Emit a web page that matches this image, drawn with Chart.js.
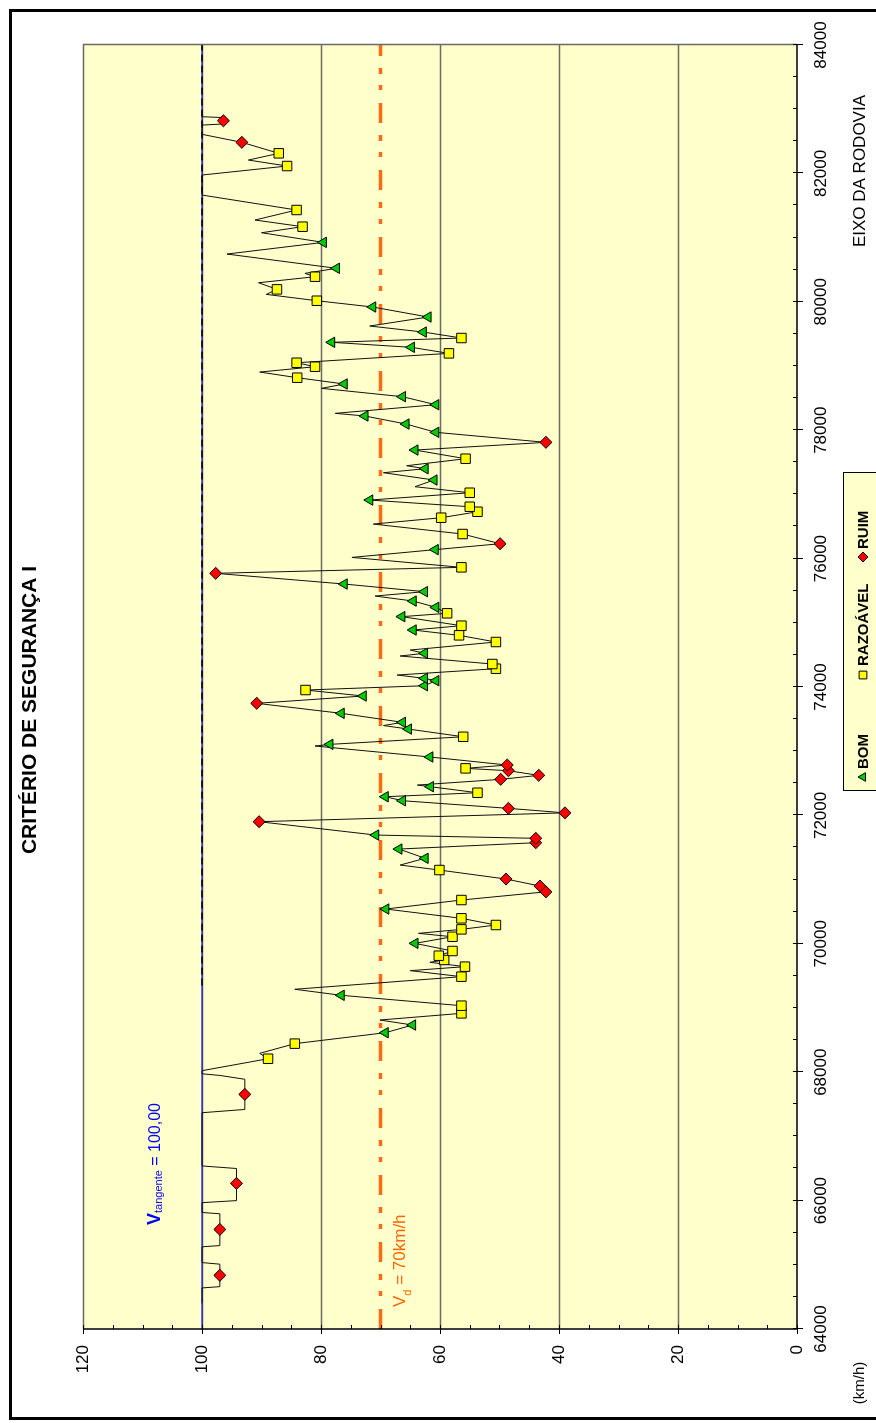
<!DOCTYPE html>
<html><head><meta charset="utf-8">
<script src="https://cdn.jsdelivr.net/npm/chart.js@4/dist/chart.umd.min.js"></script>
<style>
html,body{margin:0;padding:0;background:#fff;overflow:hidden;width:876px;height:1423px;}
#wrap{position:absolute;left:0;top:0;width:1423px;height:876px;transform-origin:0 0;transform:translate(0px,1423px) rotate(-90deg);}
canvas{display:block;}
</style></head><body>
<div id="wrap"><canvas id="c" width="1423" height="876"></canvas></div>
<script>
// ---- DATA ----
const chartTitle = 'CRITÉRIO DE SEGURANÇA I';
const xAxisTitle = 'EIXO DA RODOVIA';
const yAxisTitle = '(km/h)';
const seriesNames = ['BOM', 'RAZOÁVEL', 'RUIM'];

const profileStations = [64400,64640,64660,64836,65010,65035,65280,65300,65551,65795,65815,65968,66000,66269,66500,66540,67369,67420,67655,67890,67950,67975,68024,68210,68294,68445,68615,68735,68813,68917,69036,69198,69292,69488,69582,69644,69712,69748,69815,69888,70007,70110,70163,70225,70293,70397,70542,70682,70810,70900,71009,71149,71227,71332,71476,71575,71643,71694,71902,72040,72110,72229,72291,72353,72447,72473,72562,72624,72696,72733,72785,72910,73081,73107,73225,73345,73400,73450,73590,73746,73860,73953,74020,74098,74135,74187,74285,74358,74483,74525,74576,74701,74805,74888,74955,75096,75148,75241,75339,75417,75485,75604,75771,75864,76019,76140,76232,76383,76538,76637,76730,76808,76912,77026,77120,77224,77338,77400,77447,77556,77691,77811,77967,78096,78221,78263,78397,78522,78652,78720,78818,78906,78989,79051,79197,79291,79369,79436,79529,79623,79763,79919,80017,80116,80194,80297,80391,80443,80522,80744,80926,81076,81170,81274,81430,81663,81975,82115,82208,82313,82484,82609,82753,82770,82820,82870,82883,82961];
const profileSpeeds = [100,100,97,97,97,100,100,97,97,97,100,100,94.2,94.2,94.2,100,100,92.8,92.8,92.8,97,100,100,88.9,90.3,84.4,69.2,64.6,70.1,56.4,56.4,76.6,84.4,56.4,65.0,55.8,61.7,59.3,60.2,57.9,64.2,57.9,63.6,56.4,50.6,56.4,69.1,56.4,42.2,43.2,48.9,60.1,66.7,62.5,66.9,43.9,43.9,70.8,90.4,39.0,48.5,66.3,69.2,53.7,61.6,63.8,49.8,43.4,48.5,55.7,48.7,61.7,81.0,78.5,56.1,65.3,69.5,66.3,76.6,90.8,72.9,82.6,62.6,60.7,62.6,67.2,50.6,51.2,66.7,62.6,65.0,50.6,56.8,64.5,56.4,66.4,58.8,60.7,64.5,70.9,62.6,76.1,97.7,56.4,74.8,60.8,49.9,56.2,71.2,59.8,53.7,55.0,71.8,55.0,64.2,61.0,69.5,62.5,65.6,55.7,64.2,42.2,60.7,65.7,72.6,77.6,60.7,66.3,79.9,76.1,84.0,90.3,81.0,84.1,58.5,64.8,78.2,56.4,62.8,71.8,62.0,71.3,80.7,89.2,87.4,90.5,81.0,82.7,77.4,95.8,79.6,90.0,83.1,91.1,84.1,100,100,85.7,92.2,87.1,93.3,100,100,96.4,96.4,96.4,100,100];

const bomStations = [68615,68735,69198,70007,70542,71332,71476,71694,72229,72291,72447,72910,73107,73345,73450,73590,73860,74020,74098,74135,74525,74888,75096,75241,75339,75485,75604,76140,76912,77224,77400,77691,77967,78096,78221,78397,78522,78720,79291,79369,79529,79763,79919,80522,80926];
const bomSpeeds = [69.2,64.6,76.6,64.2,69.1,62.5,66.9,70.8,66.3,69.2,61.6,61.7,78.5,65.3,66.3,76.6,72.9,62.6,60.7,62.6,62.6,64.5,66.4,60.7,64.5,62.6,76.1,60.8,71.8,61.0,62.5,64.2,60.7,65.7,72.6,60.7,66.3,76.1,64.8,78.2,62.8,62.0,71.3,77.4,79.6];

const razStations = [68210,68445,68917,69036,69488,69644,69748,69815,69888,70110,70225,70293,70397,70682,71149,72353,72733,73225,73953,74285,74358,74701,74805,74955,75148,75864,76383,76637,76730,76808,77026,77556,78818,78989,79051,79197,79436,80017,80194,80391,81170,81430,82115,82313];
const razSpeeds = [88.9,84.4,56.4,56.4,56.4,55.8,59.3,60.2,57.9,57.9,56.4,50.6,56.4,56.4,60.1,53.7,55.7,56.1,82.6,50.6,51.2,50.6,56.8,56.4,58.8,56.4,56.2,59.8,53.7,55.0,55.0,55.7,84.0,81.0,84.1,58.5,56.4,80.7,87.4,81.0,83.1,84.1,85.7,87.1];

const ruimStations = [64836,65551,66269,67655,70810,70900,71009,71575,71643,71902,72040,72110,72562,72624,72696,72785,73746,75771,76232,77811,82484,82820];
const ruimSpeeds = [97,97,94.2,92.8,42.2,43.2,48.9,43.9,43.9,90.4,39.0,48.5,49.8,43.4,48.5,48.7,90.8,97.7,49.9,42.2,93.3,96.4];

const tangentStations = [64000, 84000];
const tangentSpeeds = [100, 100];
const dashedStations = [69350, 84000];
const dashedSpeeds = [100, 100];
const designStations = [64000, 84000];
const designSpeeds = [70, 70];

const stationMin = 64000, stationMax = 84000, stationStep = 2000, stationMinor = 500;
const speedMin = 0, speedMax = 120, speedStep = 20, speedMinor = 5;

// ---- CHART ----
Chart.defaults.font.family = "'Liberation Sans', Arial, sans-serif";
const toPts = (xs, ys) => xs.map((x, i) => ({x: x, y: ys[i]}));
const FONT = "'Liberation Sans', Arial, sans-serif";

const bgPlugin = {
  id: 'bg',
  beforeDraw(chart) {
    const ctx = chart.ctx, ca = chart.chartArea;
    ctx.save();
    ctx.fillStyle = '#fff';
    ctx.fillRect(0, 0, chart.width, chart.height);
    ctx.fillStyle = '#FFFFCC';
    ctx.fillRect(ca.left, ca.top, ca.right - ca.left, ca.bottom - ca.top);
    ctx.restore();
  },
  beforeDatasetsDraw(chart) {
    const ctx = chart.ctx, ca = chart.chartArea, ys = chart.scales.y;
    ctx.save();
    ctx.strokeStyle = '#6a6a66';
    ctx.lineWidth = 1.5;
    for (let v = speedMin + speedStep; v < speedMax; v += speedStep) {
      const p = Math.round(ys.getPixelForValue(v)) + 0.5;
      ctx.beginPath(); ctx.moveTo(ca.left, p); ctx.lineTo(ca.right, p); ctx.stroke();
    }
    ctx.restore();
  }
};

function subText(ctx, x, y, parts) {
  let cx = x;
  for (const p of parts) {
    ctx.font = p.font;
    ctx.fillText(p.t, cx, y + (p.dy || 0));
    cx += ctx.measureText(p.t).width;
  }
}

const decoPlugin = {
  id: 'deco',
  afterDraw(chart) {
    const ctx = chart.ctx, ca = chart.chartArea, xs = chart.scales.x, ys = chart.scales.y;
    ctx.save();
    // plot border (top/right gray)
    ctx.strokeStyle = '#6a6a66'; ctx.lineWidth = 1.5;
    ctx.beginPath();
    ctx.moveTo(ca.left, ca.top + 0.5); ctx.lineTo(ca.right + 0.5, ca.top + 0.5); ctx.lineTo(ca.right + 0.5, ca.bottom);
    ctx.stroke();
    // axes (black)
    ctx.strokeStyle = '#000'; ctx.lineWidth = 1.5;
    ctx.beginPath();
    ctx.moveTo(ca.left, ca.top); ctx.lineTo(ca.left, ca.bottom); ctx.lineTo(ca.right, ca.bottom);
    ctx.stroke();
    ctx.lineWidth = 1;
    for (let s = stationMin; s <= stationMax; s += stationMinor) {
      const p = Math.round(xs.getPixelForValue(s)) + 0.5;
      const major = (s - stationMin) % stationStep === 0;
      ctx.beginPath(); ctx.moveTo(p, ca.bottom - 4); ctx.lineTo(p, ca.bottom + (major ? 6 : 0)); ctx.stroke();
    }
    for (let v = speedMin; v <= speedMax; v += speedMinor) {
      const p = Math.round(ys.getPixelForValue(v)) + 0.5;
      const major = (v - speedMin) % speedStep === 0;
      ctx.beginPath(); ctx.moveTo(ca.left + 4, p); ctx.lineTo(ca.left - (major ? 5 : 0), p); ctx.stroke();
    }
    // title
    ctx.fillStyle = '#000';
    ctx.textAlign = 'center'; ctx.textBaseline = 'middle';
    ctx.font = 'bold 21px ' + FONT;
    ctx.fillText(chartTitle, 713, 30);
    // axis titles
    ctx.font = '17px ' + FONT;
    ctx.textAlign = 'right';
    ctx.fillText(xAxisTitle, 1328, 860);
    ctx.textAlign = 'center';
    ctx.font = '15px ' + FONT;
    ctx.fillText(yAxisTitle, 40, 860);
    // annotations
    ctx.textAlign = 'left'; ctx.textBaseline = 'alphabetic';
    ctx.fillStyle = '#0000FF';
    subText(ctx, 198, 160, [
      {t: 'V', font: 'bold 18px ' + FONT},
      {t: 'tangente', font: '11px ' + FONT, dy: 2},
      {t: ' = 100,00', font: '16px ' + FONT}
    ]);
    ctx.fillStyle = '#FF6600';
    subText(ctx, 116, 405, [
      {t: 'V', font: '17px ' + FONT},
      {t: 'd', font: '11px ' + FONT, dy: 6},
      {t: ' = 70km/h', font: '17px ' + FONT}
    ]);
    // legend
    const lx = 632, ly = 843, lw = 318, lh = 45, cy = 863;
    ctx.fillStyle = '#FFFFCC';
    ctx.fillRect(lx, ly, lw, lh);
    ctx.strokeStyle = '#000'; ctx.lineWidth = 1;
    ctx.strokeRect(lx + 0.5, ly + 0.5, lw, lh);
    const items = [
      {style: 'triangle', color: '#00CC00', cx: 646, r: 5, tx: 654},
      {style: 'rect', color: '#FFFF00', cx: 748, r: 5.5, tx: 757},
      {style: 'rectRot', color: '#FF0000', cx: 866, r: 5, tx: 874}
    ];
    ctx.font = 'bold 15px ' + FONT;
    ctx.textBaseline = 'middle';
    items.forEach((it, i) => {
      ctx.fillStyle = it.color; ctx.strokeStyle = '#000'; ctx.lineWidth = 1;
      Chart.helpers.drawPoint(ctx, {pointStyle: it.style, radius: it.r, borderWidth: 1}, it.cx, cy);
      ctx.fillStyle = '#000';
      ctx.fillText(seriesNames[i], it.tx, cy + 1);
    });
    // outer frame
    ctx.strokeStyle = '#000'; ctx.lineWidth = 3;
    ctx.strokeRect(4.5, 10.5, 1408, 880);
    ctx.restore();
  }
};

new Chart(document.getElementById('c'), {
  type: 'scatter',
  data: {
    datasets: [
      {label: seriesNames[0], data: toPts(bomStations, bomSpeeds), pointStyle: 'triangle', pointRadius: 6, backgroundColor: '#00CC00', borderColor: '#000', borderWidth: 1, showLine: false, order: 0},
      {label: seriesNames[1], data: toPts(razStations, razSpeeds), pointStyle: 'rect', pointRadius: 6.7, backgroundColor: '#FFFF00', borderColor: '#000', borderWidth: 1, showLine: false, order: 0},
      {label: seriesNames[2], data: toPts(ruimStations, ruimSpeeds), pointStyle: 'rectRot', pointRadius: 6, backgroundColor: '#FF0000', borderColor: '#000', borderWidth: 1, showLine: false, order: 0},
      {label: 'perfil', data: toPts(profileStations, profileSpeeds), showLine: true, borderColor: '#111', borderWidth: 1, pointRadius: 0, tension: 0, order: 1},
      {label: 'tracejado', data: toPts(dashedStations, dashedSpeeds), showLine: true, borderColor: '#000', borderWidth: 1.5, borderDash: [7, 4], pointRadius: 0, order: 2},
      {label: 'Vtangente', data: toPts(tangentStations, tangentSpeeds), showLine: true, borderColor: '#0000FF', borderWidth: 1.2, pointRadius: 0, order: 3},
      {label: 'Vd', data: toPts(designStations, designSpeeds), showLine: true, borderColor: '#FF6A13', borderWidth: 3.5, borderDash: [20, 13, 5, 11, 6, 12], pointRadius: 0, order: 4}
    ]
  },
  options: {
    responsive: false, animation: false, devicePixelRatio: 1,
    layout: {padding: {left: 0, right: 45, top: 83, bottom: 0}},
    plugins: {legend: {display: false}, tooltip: {enabled: false}, title: {display: false}},
    scales: {
      x: {
        type: 'linear', min: stationMin, max: stationMax,
        ticks: {stepSize: stationStep, callback: v => String(v), font: {size: 17}, color: '#000', padding: 14, maxRotation: 0, minRotation: 0, autoSkip: false},
        grid: {display: false, drawTicks: false}, border: {display: false},
        afterFit(s) { s.height = 79; }
      },
      y: {
        type: 'linear', min: speedMin, max: speedMax,
        ticks: {stepSize: speedStep, font: {size: 17}, color: '#000', padding: 16},
        grid: {display: false, drawTicks: false}, border: {display: false},
        afterFit(s) { s.width = 94; }
      }
    }
  },
  plugins: [bgPlugin, decoPlugin]
});
</script>
</body></html>
